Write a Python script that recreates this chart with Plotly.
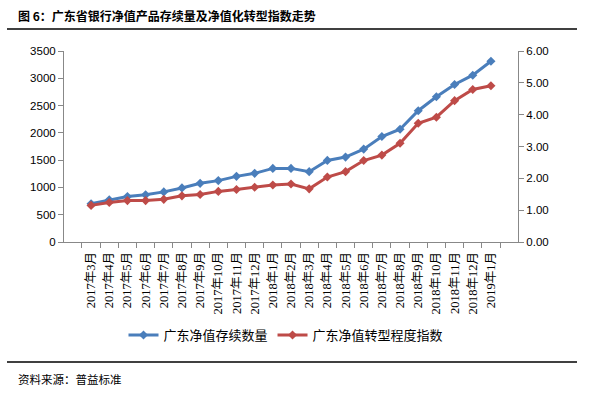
import plotly.graph_objects as go

categories = ["2017年3月", "2017年4月", "2017年5月", "2017年6月", "2017年7月", "2017年8月",
              "2017年9月", "2017年10月", "2017年11月", "2017年12月", "2018年1月", "2018年2月",
              "2018年3月", "2018年4月", "2018年5月", "2018年6月", "2018年7月", "2018年8月",
              "2018年9月", "2018年10月", "2018年11月", "2018年12月", "2019年1月"]
count_values = [700, 773, 833, 864, 918, 991, 1075, 1125, 1203, 1258, 1349, 1349,
                1289, 1495, 1556, 1702, 1932, 2067, 2406, 2661, 2886, 3057, 3312]
index_values = [1.15, 1.24, 1.30, 1.30, 1.34, 1.45, 1.49, 1.59, 1.65, 1.72, 1.79, 1.82,
                1.67, 2.04, 2.21, 2.56, 2.73, 3.10, 3.73, 3.92, 4.44, 4.79, 4.91]
series_names = ["广东净值存续数量", "广东净值转型程度指数"]
left_ticks = [0, 500, 1000, 1500, 2000, 2500, 3000, 3500]
right_ticks = [0, 1, 2, 3, 4, 5, 6]

BLUE = "#4a7ebb"
RED = "#be4b48"
CJK = "Noto Sans CJK SC"
NUM = "Liberation Sans, DejaVu Sans"
H = 397

fig = go.Figure()
fig.add_trace(go.Scatter(x=categories, y=count_values, name=series_names[0],
                         mode="lines+markers", line=dict(color=BLUE, width=3),
                         marker=dict(symbol="diamond", size=7, color=BLUE), yaxis="y"))
fig.add_trace(go.Scatter(x=categories, y=index_values, name=series_names[1],
                         mode="lines+markers", line=dict(color=RED, width=3),
                         marker=dict(symbol="diamond", size=7, color=RED), yaxis="y2"))

axis_line = dict(showline=True, linecolor="#888888", linewidth=1, ticks="outside",
                 tickcolor="#888888", ticklen=5, showgrid=False, zeroline=False, automargin=False)

fig.update_layout(
    width=601, height=397,
    margin=dict(l=64, r=83, t=51, b=155, autoexpand=False),
    paper_bgcolor="white", plot_bgcolor="white",
    showlegend=True,
    legend=dict(orientation="h", x=286 / 601, xanchor="center", xref="container",
                y=1 - 335 / H, yanchor="middle", yref="container",
                font=dict(family=CJK, size=13, color="#000000"),
                tracegroupgap=0, bgcolor="rgba(0,0,0,0)"),
    xaxis=dict(type="category", tickangle=-90, tickson="boundaries", ticklabelstandoff=4,
               tickfont=dict(family="Liberation Serif, " + CJK, size=12.5, color="#000000"),
               **axis_line),
    yaxis=dict(range=[0, 3500], tickvals=left_ticks, tickfont=dict(family=NUM, size=11.5, color="#000000"),
               **axis_line),
    yaxis2=dict(range=[0, 6], tickvals=right_ticks, tickformat=".2f", overlaying="y", side="right",
                tickfont=dict(family=NUM, size=11.5, color="#000000"), **axis_line),
    font=dict(family=CJK, color="#000000"),
)

fig.add_annotation(text="<b>图 6：广东省银行净值产品存续量及净值化转型指数走势</b>", xref="paper", yref="paper",
                   x=(16 - 64) / 454, y=(242 - 15) / 191, xanchor="left", yanchor="middle",
                   showarrow=False, font=dict(family=CJK, size=12, color="#000000"))
fig.add_annotation(text="资料来源：普益标准", xref="paper", yref="paper",
                   x=(16 - 64) / 454, y=(242 - 379) / 191, xanchor="left", yanchor="middle",
                   showarrow=False, font=dict(family=CJK, size=11.5, color="#000000"))
fig.add_shape(type="line", xref="paper", yref="paper",
              x0=(7 - 64) / 454, x1=(577 - 64) / 454, y0=(242 - 29) / 191, y1=(242 - 29) / 191,
              line=dict(color="#000000", width=1.5))
fig.add_shape(type="line", xref="paper", yref="paper",
              x0=(7 - 64) / 454, x1=(577 - 64) / 454, y0=(242 - 362) / 191, y1=(242 - 362) / 191,
              line=dict(color="#000000", width=1.5))

fig.write_html("out.html", config={"displayModeBar": False},
               post_script="document.body.style.margin='0';document.body.style.overflow='hidden';")
